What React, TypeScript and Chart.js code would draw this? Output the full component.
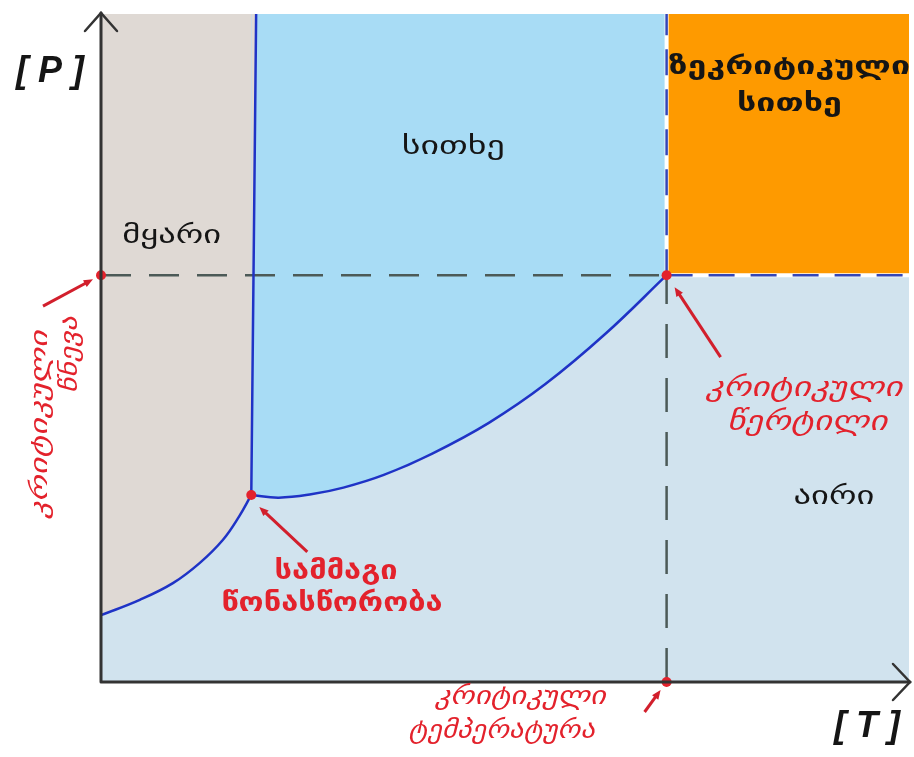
import React, { useEffect, useRef } from "react";
import { Chart, registerables } from "chart.js";

Chart.register(...registerables);

// ---- data (T = temperature, P = pressure, arbitrary units 0..100) ----
const sublimationT = [0, 4.8, 8.9, 12.2, 15.1, 17.1, 18.6];
const sublimationP = [10.0, 12.3, 14.8, 17.8, 21.3, 24.8, 28.0];
const meltingT = [18.6, 18.9, 19.2];
const meltingP = [28.0, 64.0, 100];
const vaporT = [18.6, 22.0, 26.0, 30.0, 35.0, 41.0, 48.0, 55.0, 62.5, 70.0];
const vaporP = [28.0, 27.6, 28.1, 29.1, 31.0, 34.2, 38.8, 44.6, 52.2, 60.9];
const triplePoint = { T: 18.6, P: 28.0 };
const criticalPoint = { T: 70.0, P: 60.9 };
const axisRangeT = [0, 100];
const axisRangeP = [0, 100];

const regionLabels = ["მყარი", "სითხე", "ზეკრიტიკული", "სითხე", "აირი"];
const tripleLabel = ["სამმაგი", "წონასწორობა"];
const criticalPointLabel = ["კრიტიკული", "წერტილი"];
const criticalTempLabel = ["კრიტიკული", "ტემპერატურა"];
const criticalPressLabel = ["კრიტიკული", "წნევა"];
const axisTitles = ["[ P ]", "[ T ]"];

const pts = (xs: number[], ys: number[]) => xs.map((x, i) => ({ x, y: ys[i] }));

const COLORS = {
  gas: "#d1e3ee",
  liquid: "#a8dcf5",
  solid: "#dfd9d4",
  super: "#fe9a00",
  curve: "#1f33c6",
  dashGray: "#4c5a57",
  dashBlue: "#3346b8",
  red: "#e3222c",
  axis: "#333333",
};

export default function App() {
  const ref = useRef<HTMLCanvasElement | null>(null);

  useEffect(() => {
    if (!ref.current) return;
    const [tMin, tMax] = axisRangeT;
    const [pMin, pMax] = axisRangeP;
    const cT = criticalPoint.T;
    const cP = criticalPoint.P;

    const annot = {
      id: "annot",
      afterDatasetsDraw(chart: any) {
        const ctx = chart.ctx as CanvasRenderingContext2D;
        const xs = chart.scales.x;
        const ys = chart.scales.y;
        const X = (v: number) => xs.getPixelForValue(v);
        const Y = (v: number) => ys.getPixelForValue(v);
        const a = chart.chartArea;
        ctx.save();

        // axes with arrows
        ctx.strokeStyle = COLORS.axis;
        ctx.lineWidth = 3;
        ctx.lineCap = "round";
        ctx.beginPath();
        ctx.moveTo(a.left, a.bottom);
        ctx.lineTo(a.left, a.top - 1);
        ctx.moveTo(a.left, a.bottom);
        ctx.lineTo(a.right + 1, a.bottom);
        ctx.stroke();
        ctx.lineWidth = 2.5;
        ctx.beginPath();
        ctx.moveTo(a.left - 16, a.top + 17);
        ctx.lineTo(a.left, a.top - 1);
        ctx.lineTo(a.left + 16, a.top + 17);
        ctx.moveTo(a.right - 16, a.bottom - 18);
        ctx.lineTo(a.right + 1, a.bottom);
        ctx.lineTo(a.right - 16, a.bottom + 18);
        ctx.stroke();

        const text = (s: string, x: number, y: number, font: string, color: string, sx = 1, rot = 0) => {
          ctx.save();
          ctx.translate(x, y);
          if (rot) ctx.rotate(rot);
          ctx.scale(sx, 1);
          ctx.font = font;
          ctx.fillStyle = color;
          ctx.textAlign = "center";
          ctx.textBaseline = "middle";
          ctx.fillText(s, 0, 0);
          ctx.restore();
        };
        const geo = "'DejaVu Sans', sans-serif";
        const black = "#151515";
        text(regionLabels[0], X(8.75), Y(66.7), `26px ${geo}`, black, 1.33);
        text(regionLabels[1], X(43.6), Y(80.1), `26px ${geo}`, black, 1.38);
        text(regionLabels[2], X(85.2), Y(92.0), `bold 25px ${geo}`, black, 1.36);
        text(regionLabels[3], X(85.2), Y(86.5), `bold 25px ${geo}`, black, 1.36);
        text(regionLabels[4], X(90.7), Y(27.6), `26px ${geo}`, black, 1.33);

        // axis titles
        text(axisTitles[0], X(-6.3), Y(91.3), `italic bold 36px 'Liberation Sans', sans-serif`, black);
        text(axisTitles[1], X(94.8), Y(-6.7), `italic bold 36px 'Liberation Sans', sans-serif`, black);

        const red = COLORS.red;
        text(tripleLabel[0], X(29.1), Y(16.5), `bold 27px ${geo}`, red, 1.14);
        text(tripleLabel[1], X(28.6), Y(11.7), `bold 27px ${geo}`, red, 1.14);
        text(criticalPointLabel[0], X(87.0), Y(43.8), `italic 27px ${geo}`, red, 1.3);
        text(criticalPointLabel[1], X(87.4), Y(38.7), `italic 27px ${geo}`, red, 1.3);
        text(criticalTempLabel[0], X(51.9), Y(-2.3), `italic 25px ${geo}`, red, 1.22);
        text(criticalTempLabel[1], X(49.6), Y(-7.4), `italic 25px ${geo}`, red, 1.15);
        text(criticalPressLabel[0], X(-7.5), Y(38.5), `italic 24px ${geo}`, red, 1.4, -Math.PI / 2);
        text(criticalPressLabel[1], X(-3.8), Y(49.0), `italic 24px ${geo}`, red, 1.25, -Math.PI / 2);

        // red pointer arrows
        const arrow = (x1: number, y1: number, x2: number, y2: number) => {
          ctx.strokeStyle = "#d21f2c";
          ctx.fillStyle = "#d21f2c";
          ctx.lineWidth = 3;
          ctx.lineCap = "butt";
          const ang = Math.atan2(y2 - y1, x2 - x1);
          const hl = 10;
          ctx.beginPath();
          ctx.moveTo(x1, y1);
          ctx.lineTo(x2 - hl * 0.8 * Math.cos(ang), y2 - hl * 0.8 * Math.sin(ang));
          ctx.stroke();
          ctx.beginPath();
          ctx.moveTo(x2, y2);
          ctx.lineTo(x2 - hl * Math.cos(ang - 0.4), y2 - hl * Math.sin(ang - 0.4));
          ctx.lineTo(x2 - hl * Math.cos(ang + 0.4), y2 - hl * Math.sin(ang + 0.4));
          ctx.closePath();
          ctx.fill();
        };
        const px = X(tMin), py = Y(cP);
        arrow(px - 58, py + 31, px - 8, py + 4);
        const tx = X(triplePoint.T), ty = Y(triplePoint.P);
        arrow(tx + 56, ty + 57, tx + 8, ty + 12);
        const kx = X(cT), ky = Y(cP);
        arrow(kx + 54, ky + 82, kx + 8, ky + 12);
        const bx = X(cT), by = Y(pMin);
        arrow(bx - 22, by + 30, bx - 6, by + 8);

        ctx.restore();
      },
    };

    const base = { pointRadius: 0, pointHoverRadius: 0, borderWidth: 0 };
    const curve = { borderColor: COLORS.curve, borderWidth: 2.5, tension: 0.4, fill: false, order: 2 };
    const chart = new Chart(ref.current, {
      type: "line",
      data: {
        datasets: [
          // red markers (top)
          {
            ...base,
            type: "scatter",
            data: [
              { x: tMin, y: cP },
              { x: triplePoint.T, y: triplePoint.P },
              { x: cT, y: cP },
              { x: cT, y: pMin },
            ],
            pointRadius: 5,
            pointBackgroundColor: COLORS.red,
            pointBorderWidth: 0,
            showLine: false,
            clip: false,
            order: 1,
          } as any,
          // curves
          { ...base, ...curve, data: pts(sublimationT, sublimationP) },
          { ...base, ...curve, data: pts(meltingT, meltingP), tension: 0 },
          { ...base, ...curve, data: pts(vaporT, vaporP) },
          // dashed guide lines
          { ...base, data: [{ x: tMin, y: cP }, { x: cT, y: cP }], borderColor: COLORS.dashGray, borderWidth: 2.5, borderDash: [30, 18], fill: false, order: 3 },
          { ...base, data: [{ x: cT, y: cP }, { x: tMax, y: cP }], borderColor: COLORS.dashBlue, borderWidth: 2.5, borderDash: [26, 16], fill: false, order: 3 },
          { ...base, data: [{ x: cT, y: pMin }, { x: cT, y: cP }], borderColor: COLORS.dashGray, borderWidth: 2.5, borderDash: [34, 20], fill: false, order: 3 },
          { ...base, data: [{ x: cT, y: cP }, { x: cT, y: pMax }], borderColor: COLORS.dashBlue, borderWidth: 2.5, borderDash: [26, 14], fill: false, order: 3 },
          // white edge of supercritical region
          { ...base, data: [{ x: cT, y: pMax }, { x: cT, y: cP }, { x: tMax, y: cP }], borderColor: "#ffffff", borderWidth: 4, fill: false, order: 4 },
          // region fills
          { ...base, data: pts(meltingT, meltingP), fill: "end", backgroundColor: COLORS.solid, order: 6 },
          { ...base, data: pts(sublimationT, sublimationP), tension: 0.4, fill: "end", backgroundColor: COLORS.solid, order: 7 },
          { ...base, data: [{ x: cT, y: cP }, { x: tMax, y: cP }], fill: "end", backgroundColor: COLORS.super, order: 8 },
          { ...base, data: pts(vaporT, vaporP), tension: 0.4, fill: "end", backgroundColor: COLORS.liquid, order: 9 },
          { ...base, data: [{ x: tMin, y: pMin }, { x: tMax, y: pMin }], fill: "end", backgroundColor: COLORS.gas, order: 10 },
        ],
      },
      options: {
        responsive: false,
        animation: false,
        events: [],
        layout: { padding: { left: 101, top: 14, right: 2, bottom: 75 } },
        scales: {
          x: { type: "linear", min: tMin, max: tMax, display: false },
          y: { type: "linear", min: pMin, max: pMax, display: false },
        },
        plugins: { legend: { display: false }, tooltip: { enabled: false } },
      },
      plugins: [annot],
    } as any);
    return () => chart.destroy();
  }, []);

  return (
    <div style={{ position: "fixed", left: 0, top: 0, width: 914, height: 757, background: "#ffffff" }}>
      <canvas ref={ref} width={914} height={757} style={{ display: "block" }} />
    </div>
  );
}
